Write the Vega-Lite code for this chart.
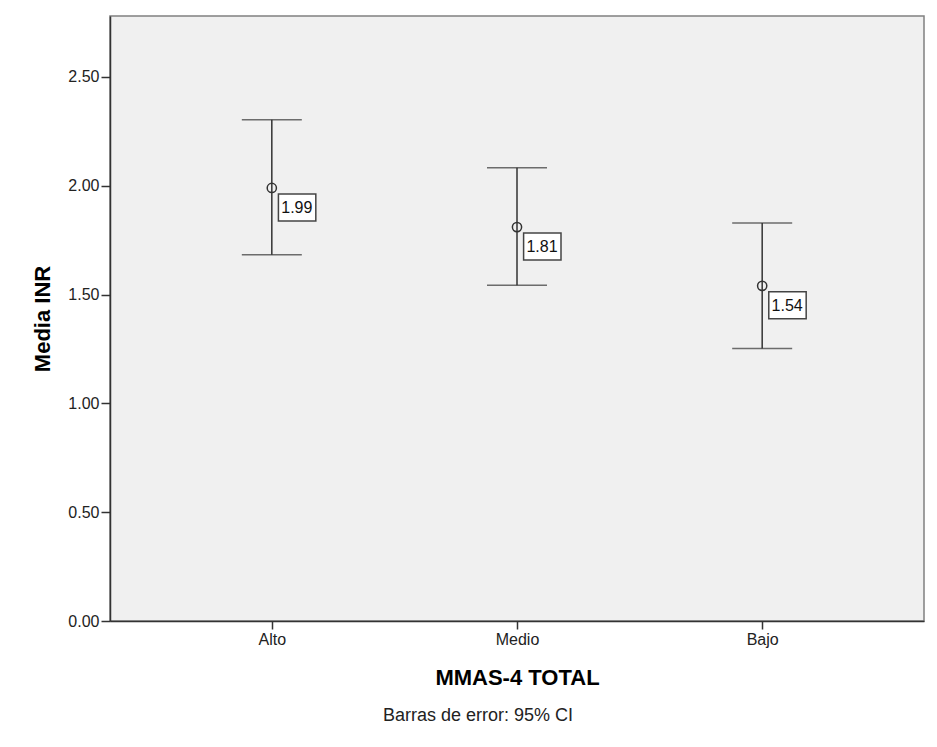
{
  "$schema": "https://vega.github.io/schema/vega-lite/v6.json",
  "autosize": {"type": "none"},
  "width": 814,
  "height": 605,
  "padding": {"left": 110, "top": 16, "right": 13, "bottom": 126},
  "background": "white",
  "config": {
    "font": "Liberation Sans",
    "view": {"fill": "#f0f0f0", "stroke": "#808080", "strokeWidth": 1.5},
    "axis": {"grid": false, "domainColor": "#333333", "domainWidth": 1.5, "tickColor": "#333333", "tickWidth": 1.5, "labelColor": "#222222", "labelFontSize": 16, "titleColor": "#000000", "titleFontSize": 22, "titleFontWeight": "bold"},
    "title": {"fontSize": 18, "fontWeight": "normal", "color": "#222222"}
  },
  "title": {"text": "Barras de error: 95% CI", "orient": "bottom", "anchor": "middle", "frame": "group", "offset": 19, "dx": -39},
  "data": {"values": [
    {"group": "Alto", "mean": 1.99, "lower": 1.683, "upper": 2.303},
    {"group": "Medio", "mean": 1.81, "lower": 1.543, "upper": 2.083},
    {"group": "Bajo", "mean": 1.54, "lower": 1.252, "upper": 1.829}
  ]},
  "encoding": {
    "x": {"field": "group", "type": "nominal", "sort": ["Alto", "Medio", "Bajo"],
      "scale": {"type": "point", "padding": 0.66},
      "axis": {"title": "MMAS-4 TOTAL", "labelAngle": 0, "tickSize": 8, "labelPadding": 2, "titleY": 56, "titleBaseline": "middle"}},
    "y": {"type": "quantitative", "scale": {"domain": [0, 2.78], "nice": false, "zero": true},
      "axis": {"title": "Media INR", "values": [0, 0.5, 1, 1.5, 2, 2.5], "format": ".2f", "tickSize": 9, "labelPadding": 2, "titleX": -68, "titleBaseline": "middle"}}
  },
  "layer": [
    {"mark": {"type": "rule", "color": "#333333", "strokeWidth": 1.5},
     "encoding": {"y": {"field": "lower", "type": "quantitative"}, "y2": {"field": "upper"}}},
    {"mark": {"type": "tick", "color": "#333333", "thickness": 1.5, "size": 60},
     "encoding": {"y": {"field": "lower", "type": "quantitative"}}},
    {"mark": {"type": "tick", "color": "#333333", "thickness": 1.5, "size": 60},
     "encoding": {"y": {"field": "upper", "type": "quantitative"}}},
    {"mark": {"type": "point", "shape": "circle", "filled": false, "color": "#333333", "strokeWidth": 1.5, "size": 85, "opacity": 1},
     "encoding": {"y": {"field": "mean", "type": "quantitative"}}},
    {"mark": {"type": "point", "shape": "M0.33,0.3H2.2V1.65H0.33Z", "filled": true, "fill": "white", "stroke": "#444444", "strokeWidth": 1.5, "size": 1600, "opacity": 1, "fillOpacity": 1},
     "encoding": {"y": {"field": "mean", "type": "quantitative"}}},
    {"mark": {"type": "text", "dx": 25, "dy": 20, "align": "center", "baseline": "middle", "fontSize": 16, "color": "#111111"},
     "encoding": {"y": {"field": "mean", "type": "quantitative"}, "text": {"field": "mean", "type": "quantitative", "format": ".2f"}}}
  ]
}
